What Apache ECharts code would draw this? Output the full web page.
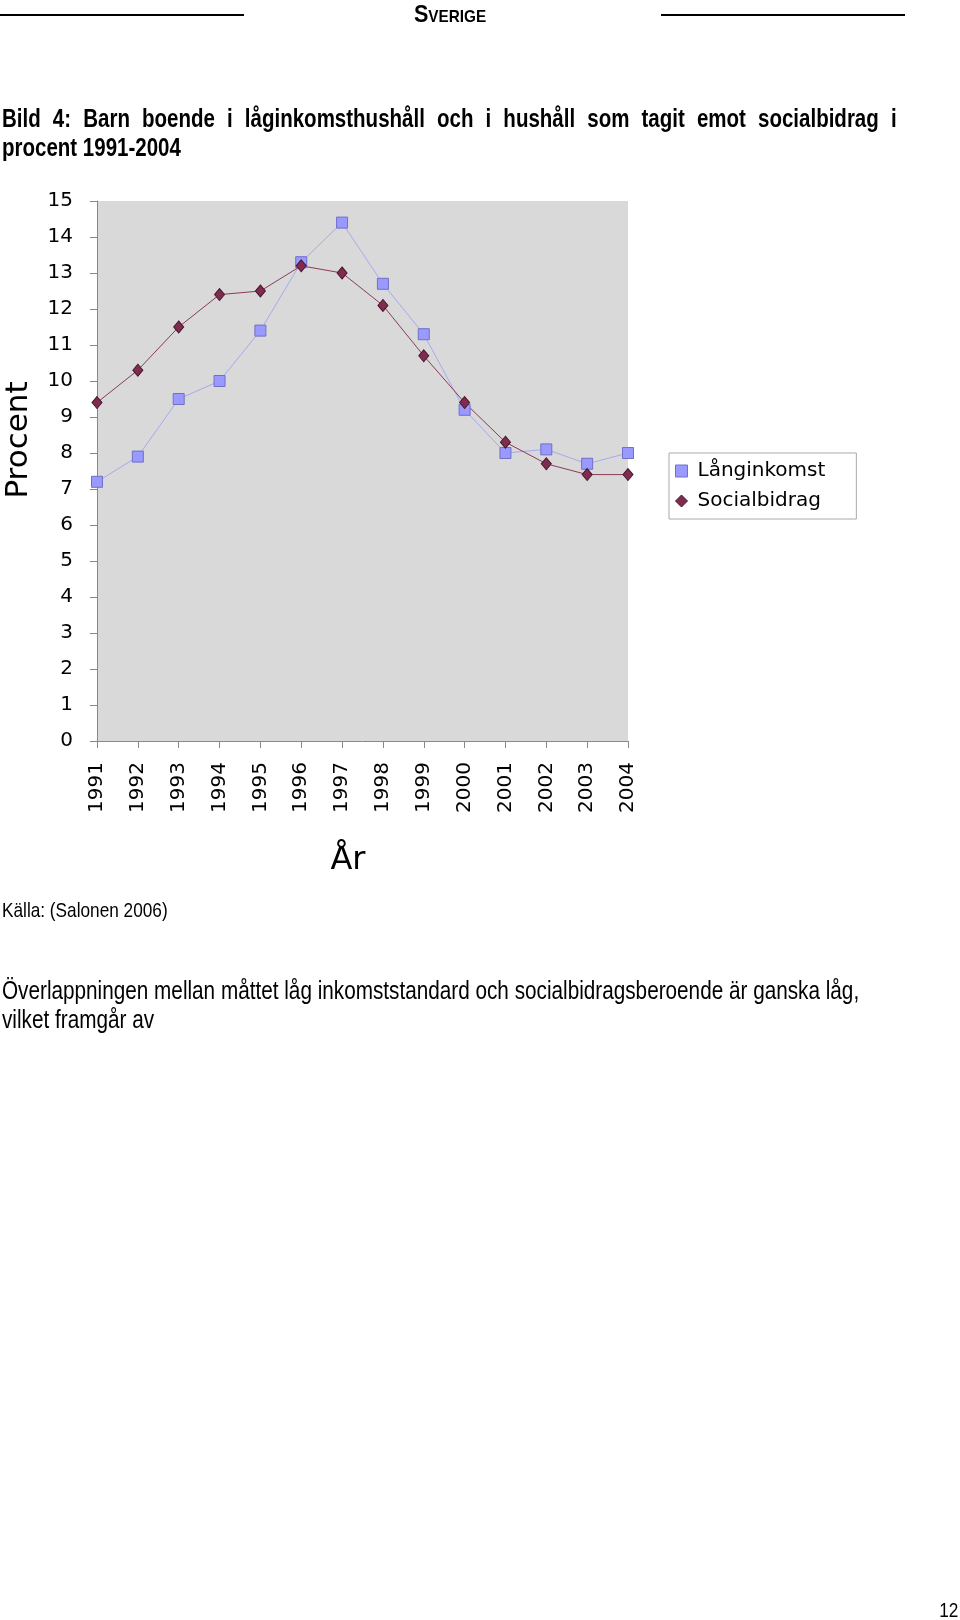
<!DOCTYPE html>
<html>
<head>
<meta charset="utf-8">
<script src="https://cdn.jsdelivr.net/npm/echarts@6/dist/echarts.min.js"></script>
<style>
  html, body { margin:0; padding:0; background:#fff; }
  #page { position:relative; width:960px; height:1620px; overflow:hidden; }
  #chart { position:absolute; left:0; top:0; width:960px; height:1620px; }
  .txt { position:absolute; font-family:"Liberation Sans",Arial,sans-serif; color:#000; white-space:nowrap; transform:scaleX(0.82); transform-origin:0 0; }
  .rule { position:absolute; height:2px; background:#000; top:14px; }
</style>
</head>
<body>
<div id="page">
  <div id="chart"></div>
  <div class="rule" style="left:0;width:244px;"></div>
  <div class="rule" style="left:661px;width:244px;"></div>
  <div class="txt" id="hdr" style="left:350px;width:200px;top:0px;text-align:center;font-weight:bold;font-size:24px;font-variant:small-caps;line-height:28px;transform:scaleX(0.9);transform-origin:50% 0;">Sverige</div>
  <div class="txt" id="t1" style="left:2px;width:1091px;top:104px;font-weight:bold;font-size:25px;line-height:29px;text-align:justify;text-align-last:justify;">Bild 4: Barn boende i låginkomsthushåll och i hushåll som tagit emot socialbidrag i</div>
  <div class="txt" id="t2" style="left:2px;top:133px;font-weight:bold;font-size:25px;line-height:29px;">procent 1991-2004</div>
  <div class="txt" style="left:2px;top:897px;font-size:21px;line-height:26px;">Källa: (Salonen 2006)</div>
  <div class="txt" style="left:2px;top:976px;font-size:25px;line-height:29px;transform:scaleX(0.829);">Överlappningen mellan måttet låg inkomststandard och socialbidragsberoende är ganska låg,</div>
  <div class="txt" style="left:2px;top:1005px;font-size:25px;line-height:29px;transform:scaleX(0.829);">vilket framgår av</div>
  <div class="txt" style="right:2px;top:1597px;font-size:21px;line-height:26px;transform-origin:100% 0;">12</div>
</div>
<script>
// ---- data ----
const years = ['1991','1992','1993','1994','1995','1996','1997','1998','1999','2000','2001','2002','2003','2004'];
const lowIncome = [7.2, 7.9, 9.5, 10.0, 11.4, 13.3, 14.4, 12.7, 11.3, 9.2, 8.0, 8.1, 7.7, 8.0];
const socialAssist = [9.4, 10.3, 11.5, 12.4, 12.5, 13.2, 13.0, 12.1, 10.7, 9.4, 8.3, 7.7, 7.4, 7.4];
const seriesNames = ['Långinkomst', 'Socialbidrag'];
const yAxisTitle = 'Procent';
const xAxisTitle = 'År';

const FONT = '"DejaVu Sans", sans-serif';
const chart = echarts.init(document.getElementById('chart'), null, {renderer:'canvas'});
chart.setOption({
  animation: false,
  backgroundColor: 'transparent',
  textStyle: { fontFamily: FONT },
  grid: { left: 97, top: 201, width: 531, height: 540, show: true, backgroundColor: '#d9d9d9', borderWidth: 0 },
  xAxis: {
    type: 'category', data: years, boundaryGap: false,
    axisLine: { lineStyle: { color: '#888', width: 1 } },
    axisTick: { show: true, length: 7, lineStyle: { color: '#888' } },
    axisLabel: { rotate: 90, margin: 21, color: '#000', fontSize: 20, fontFamily: FONT, interval: 0 },
    splitLine: { show: false }
  },
  yAxis: {
    type: 'value', min: 0, max: 15, interval: 1,
    axisLine: { show: true, lineStyle: { color: '#888', width: 1 } },
    axisTick: { show: true, length: 7, lineStyle: { color: '#888' } },
    axisLabel: { margin: 24, color: '#000', fontSize: 20, fontFamily: FONT },
    splitLine: { show: false }
  },
  legend: {
    orient: 'vertical', left: 669, top: 453,
    padding: [8, 31, 8, 6], itemGap: 10,
    itemWidth: 12, itemHeight: 12,
    borderColor: '#aaa', borderWidth: 1, backgroundColor: '#fff',
    textStyle: { fontSize: 20, fontFamily: FONT, color: '#000', lineHeight: 20, padding: [0, 0, 0, 5] },
    data: [
      { name: seriesNames[0], icon: 'rect', itemStyle: { color: '#9999ff', borderColor: '#7070c8', borderWidth: 1 } },
      { name: seriesNames[1], icon: 'diamond', itemStyle: { color: '#7e2d4f', borderColor: '#4d1530', borderWidth: 1 } }
    ]
  },
  series: [
    {
      name: seriesNames[0], type: 'line', data: lowIncome,
      symbol: 'rect', symbolSize: 11,
      lineStyle: { color: '#a8a8f0', width: 1 },
      itemStyle: { color: '#9999ff', borderColor: '#7070c8', borderWidth: 1 }
    },
    {
      name: seriesNames[1], type: 'line', data: socialAssist,
      symbol: 'diamond', symbolSize: [10, 12],
      lineStyle: { color: '#8b3a5c', width: 1 },
      itemStyle: { color: '#7e2d4f', borderColor: '#4d1530', borderWidth: 1 }
    }
  ],
  graphic: [
    { type: 'text', x: 19, y: 440, rotation: Math.PI / 2,
      style: { text: yAxisTitle, fontSize: 31, fontFamily: FONT, fill: '#000', textAlign: 'center', textVerticalAlign: 'middle' } },
    { type: 'text', x: 348, y: 861,
      style: { text: xAxisTitle, fontSize: 32, fontFamily: FONT, fill: '#000', textAlign: 'center', textVerticalAlign: 'middle' } }
  ]
});
</script>
</body>
</html>
